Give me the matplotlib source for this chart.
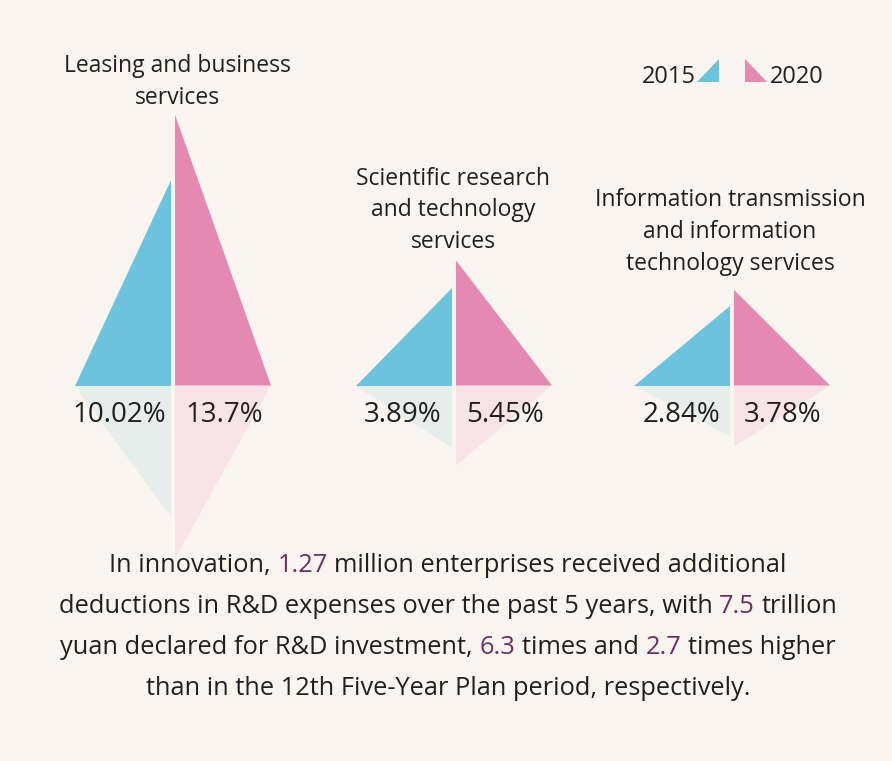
import matplotlib
matplotlib.use("Agg")
from matplotlib import pyplot as plt
from matplotlib.patches import Polygon

# data
sectors = [
    ["Leasing and business", "services"],
    ["Scientific research", "and technology", "services"],
    ["Information transmission", "and information", "technology services"],
]
share_2015 = [10.02, 3.89, 2.84]
share_2020 = [13.7, 5.45, 3.78]
years = ["2015", "2020"]

note_lines = [
    "In innovation, 1.27 million enterprises received additional",
    "deductions in R&D expenses over the past 5 years, with 7.5 trillion",
    "yuan declared for R&D investment, 6.3 times and 2.7 times higher",
    "than in the 12th Five-Year Plan period, respectively.",
]
note_highlights = [["1.27"], ["7.5"], ["6.3", "2.7"], []]

BG = "#faf6ef"
BLUE = "#6cc3dd"
PINK = "#e589b3"
PALE_BLUE = "#e5eeea"
PALE_PINK = "#f8e3e7"
INK = "#231f20"
PURPLE = "#6d2e62"

plt.rcParams['font.family'] = ['Open Sans', 'DejaVu Sans']

W, H = 892, 761
fig = plt.figure(figsize=(W / 100, H / 100), dpi=100, facecolor=BG)
ax = fig.add_axes([0, 0, 1, 1])
ax.set_xlim(0, W)
ax.set_ylim(H, 0)
ax.axis("off")

# layout (pixels)
centers = [173, 454, 732]
title_x = [177, 453.5, 730]
title_y = [72, 185, 206.5]
base_y = 385.5
half_w = 96
gap = 2
line_h = 31.5


def tri_height(v):
    # heights in the original are offset-linear in the value
    return 28.9 + 17.65 * v


for i, c in enumerate(centers):
    h15 = tri_height(share_2015[i])
    h20 = tri_height(share_2020[i])
    xl, xr = c - gap, c + gap
    # reflections
    ax.add_patch(Polygon([(xl - half_w, base_y), (xl, base_y), (xl, base_y + 0.64 * h15)],
                         closed=True, fc=PALE_BLUE, ec="none"))
    ax.add_patch(Polygon([(xr, base_y), (xr + half_w, base_y), (xr, base_y + 0.64 * h20)],
                         closed=True, fc=PALE_PINK, ec="none"))
    # main triangles
    ax.add_patch(Polygon([(xl - half_w, base_y), (xl, base_y), (xl, base_y - h15)],
                         closed=True, fc=BLUE, ec="none"))
    ax.add_patch(Polygon([(xr, base_y), (xr + half_w, base_y), (xr, base_y - h20)],
                         closed=True, fc=PINK, ec="none"))
    # value labels
    ax.text(xl - half_w / 2 - (4 if i == 0 else 1), 421.5, f"{share_2015[i]}%",
            ha="center", va="baseline", fontsize=20, color=INK)
    ax.text(xr + half_w / 2 + 1, 421.5, f"{share_2020[i]}%",
            ha="center", va="baseline", fontsize=20, color=INK)
    # sector titles
    for j, line in enumerate(sectors[i]):
        ax.text(title_x[i], title_y[i] + j * line_h, line, ha="center", va="baseline",
                fontsize=16.5, color=INK)

# legend
ax.add_patch(Polygon([(697, 82), (719, 82), (719, 59)], closed=True, fc=BLUE, ec="none"))
ax.text(696, 83, years[0], ha="right", va="baseline", fontsize=17, color=INK)
ax.add_patch(Polygon([(745, 82), (767, 82), (745, 59)], closed=True, fc=PINK, ec="none"))
ax.text(770, 83, years[1], ha="left", va="baseline", fontsize=17, color=INK)

# bottom note, split into black and purple pieces laid side by side
note_size = 18.3
renderer = fig.canvas.get_renderer()
to_data = ax.transData.inverted()


def text_width(s):
    tmp = ax.text(0, 0, s, fontsize=note_size)
    w = tmp.get_window_extent(renderer).width
    tmp.remove()
    return w


cx_disp = ax.transData.transform((448, 0))[0]
for k, line in enumerate(note_lines):
    y = 572 + k * 41
    x0 = cx_disp - text_width(line) / 2
    # pieces: (start, end, colour), none of them begins or ends with a space
    pieces = []
    pos = 0
    for num in note_highlights[k]:
        idx = line.index(num, pos)
        pieces.append((pos, idx, INK))
        pieces.append((idx, idx + len(num), PURPLE))
        pos = idx + len(num)
    pieces.append((pos, len(line), INK))
    for a, b, col in pieces:
        seg = line[a:b].strip()
        if not seg:
            continue
        end = len(line[:b].rstrip())
        xr_disp = x0 + text_width(line[:end])
        xr_data = to_data.transform((xr_disp, 0))[0]
        ax.text(xr_data, y, seg, ha="right", va="baseline", fontsize=note_size, color=col)

fig.savefig("out.png", dpi=100, facecolor=BG)
